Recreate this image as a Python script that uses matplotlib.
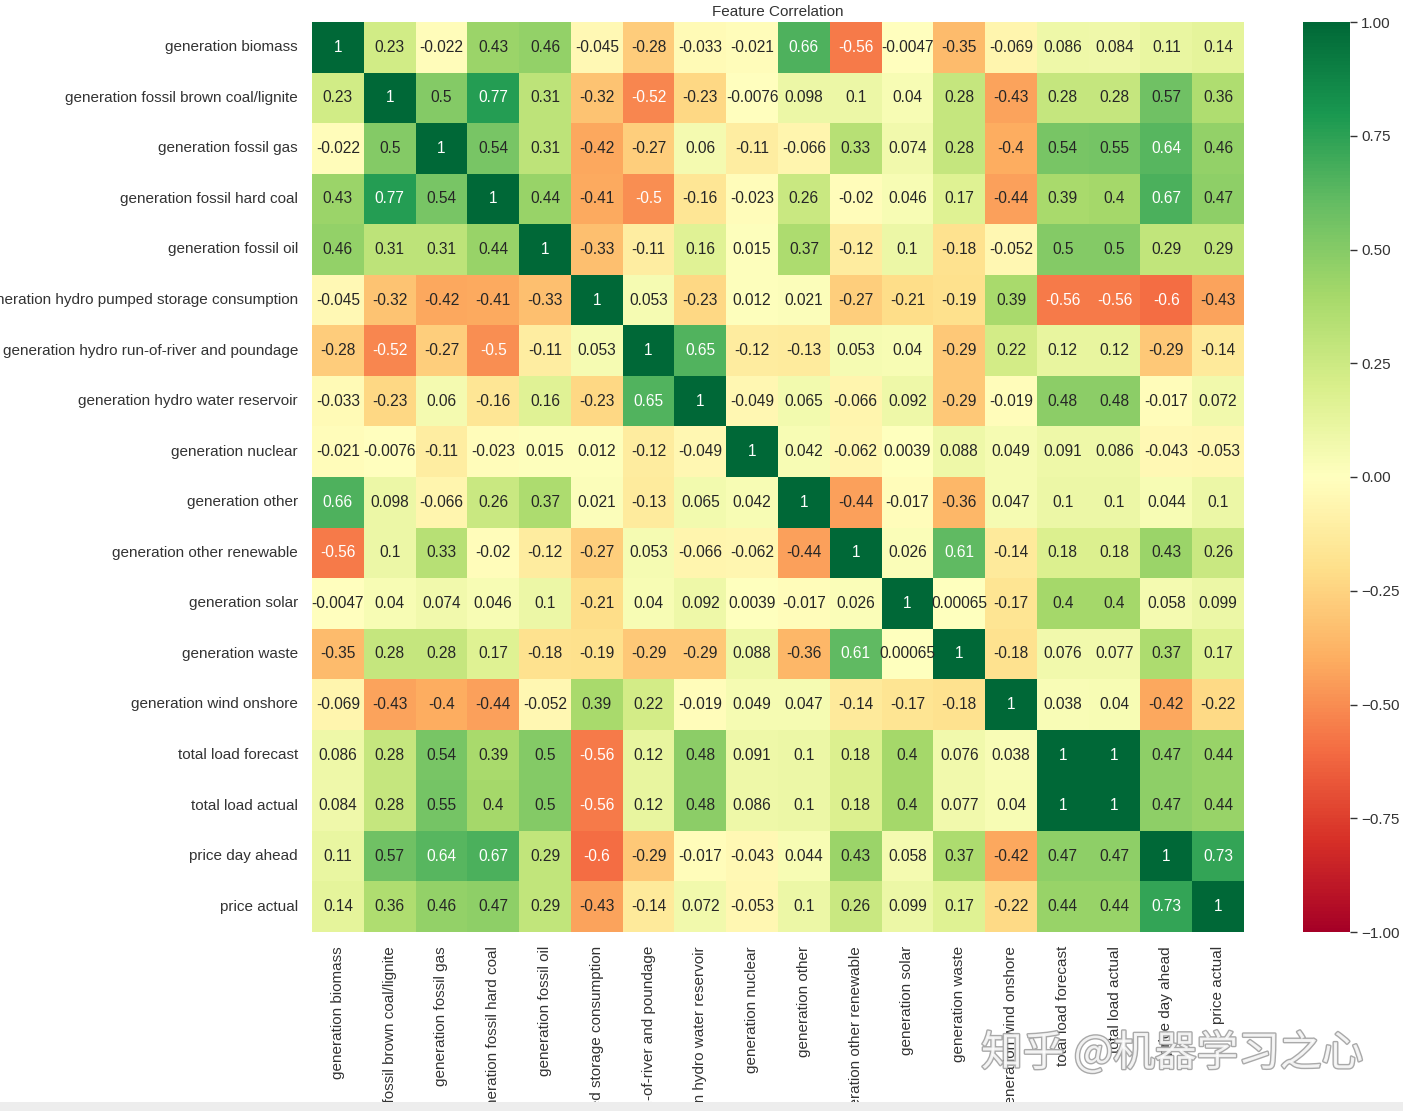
import numpy as np
import matplotlib
matplotlib.use("Agg")
import matplotlib.pyplot as plt
import matplotlib.patheffects as pe
import seaborn as sns

features = [
    "generation biomass",
    "generation fossil brown coal/lignite",
    "generation fossil gas",
    "generation fossil hard coal",
    "generation fossil oil",
    "generation hydro pumped storage consumption",
    "generation hydro run-of-river and poundage",
    "generation hydro water reservoir",
    "generation nuclear",
    "generation other",
    "generation other renewable",
    "generation solar",
    "generation waste",
    "generation wind onshore",
    "total load forecast",
    "total load actual",
    "price day ahead",
    "price actual",
]

corr_rows = [
    [1, 0.23, -0.022, 0.43, 0.46, -0.045, -0.28, -0.033, -0.021, 0.66, -0.56, -0.0047, -0.35, -0.069, 0.086, 0.084, 0.11, 0.14],
    [0.23, 1, 0.5, 0.77, 0.31, -0.32, -0.52, -0.23, -0.0076, 0.098, 0.1, 0.04, 0.28, -0.43, 0.28, 0.28, 0.57, 0.36],
    [-0.022, 0.5, 1, 0.54, 0.31, -0.42, -0.27, 0.06, -0.11, -0.066, 0.33, 0.074, 0.28, -0.4, 0.54, 0.55, 0.64, 0.46],
    [0.43, 0.77, 0.54, 1, 0.44, -0.41, -0.5, -0.16, -0.023, 0.26, -0.02, 0.046, 0.17, -0.44, 0.39, 0.4, 0.67, 0.47],
    [0.46, 0.31, 0.31, 0.44, 1, -0.33, -0.11, 0.16, 0.015, 0.37, -0.12, 0.1, -0.18, -0.052, 0.5, 0.5, 0.29, 0.29],
    [-0.045, -0.32, -0.42, -0.41, -0.33, 1, 0.053, -0.23, 0.012, 0.021, -0.27, -0.21, -0.19, 0.39, -0.56, -0.56, -0.6, -0.43],
    [-0.28, -0.52, -0.27, -0.5, -0.11, 0.053, 1, 0.65, -0.12, -0.13, 0.053, 0.04, -0.29, 0.22, 0.12, 0.12, -0.29, -0.14],
    [-0.033, -0.23, 0.06, -0.16, 0.16, -0.23, 0.65, 1, -0.049, 0.065, -0.066, 0.092, -0.29, -0.019, 0.48, 0.48, -0.017, 0.072],
    [-0.021, -0.0076, -0.11, -0.023, 0.015, 0.012, -0.12, -0.049, 1, 0.042, -0.062, 0.0039, 0.088, 0.049, 0.091, 0.086, -0.043, -0.053],
    [0.66, 0.098, -0.066, 0.26, 0.37, 0.021, -0.13, 0.065, 0.042, 1, -0.44, -0.017, -0.36, 0.047, 0.1, 0.1, 0.044, 0.1],
    [-0.56, 0.1, 0.33, -0.02, -0.12, -0.27, 0.053, -0.066, -0.062, -0.44, 1, 0.026, 0.61, -0.14, 0.18, 0.18, 0.43, 0.26],
    [-0.0047, 0.04, 0.074, 0.046, 0.1, -0.21, 0.04, 0.092, 0.0039, -0.017, 0.026, 1, 0.00065, -0.17, 0.4, 0.4, 0.058, 0.099],
    [-0.35, 0.28, 0.28, 0.17, -0.18, -0.19, -0.29, -0.29, 0.088, -0.36, 0.61, 0.00065, 1, -0.18, 0.076, 0.077, 0.37, 0.17],
    [-0.069, -0.43, -0.4, -0.44, -0.052, 0.39, 0.22, -0.019, 0.049, 0.047, -0.14, -0.17, -0.18, 1, 0.038, 0.04, -0.42, -0.22],
    [0.086, 0.28, 0.54, 0.39, 0.5, -0.56, 0.12, 0.48, 0.091, 0.1, 0.18, 0.4, 0.076, 0.038, 1, 1, 0.47, 0.44],
    [0.084, 0.28, 0.55, 0.4, 0.5, -0.56, 0.12, 0.48, 0.086, 0.1, 0.18, 0.4, 0.077, 0.04, 1, 1, 0.47, 0.44],
    [0.11, 0.57, 0.64, 0.67, 0.29, -0.6, -0.29, -0.017, -0.043, 0.044, 0.43, 0.058, 0.37, -0.42, 0.47, 0.47, 1, 0.73],
    [0.14, 0.36, 0.46, 0.47, 0.29, -0.43, -0.14, 0.072, -0.053, 0.1, 0.26, 0.099, 0.17, -0.22, 0.44, 0.44, 0.73, 1],
]

cbar_ticks = [-1.0, -0.75, -0.5, -0.25, 0.0, 0.25, 0.5, 0.75, 1.0]

sns.set_style("white")
plt.rcParams['font.family'] = ['Liberation Sans', 'DejaVu Sans']
plt.rcParams['text.color'] = '#333333'
plt.rcParams['xtick.color'] = '#333333'
plt.rcParams['ytick.color'] = '#333333'

W, H = 1403, 1111
fig = plt.figure(figsize=(W / 100, H / 100), dpi=100)

# pixel boxes taken from the reference crop
ax = fig.add_axes([312 / W, (H - 932) / H, (1244 - 312) / W, (932 - 22) / H])
cax = fig.add_axes([1303 / W, (H - 932) / H, (1350 - 1303) / W, (932 - 22) / H])

corr = np.array(corr_rows)
sns.heatmap(corr, ax=ax, cbar_ax=cax, cmap="RdYlGn", vmin=-1, vmax=1,
            annot=True, annot_kws={"fontsize": 11.2},
            xticklabels=features, yticklabels=features)

ax.set_title("Feature Correlation", fontsize=11, pad=4)
ax.tick_params(axis='both', length=0, labelsize=11, pad=10)
plt.setp(ax.get_xticklabels(), rotation=90)
plt.setp(ax.get_yticklabels(), rotation=0)

cax.set_yticks(cbar_ticks)
cax.tick_params(axis='y', right=True, length=5, width=1, labelsize=11,
                color='#333333', pad=3)
cax.yaxis.set_major_formatter(matplotlib.ticker.FuncFormatter(
    lambda v, p: f"{v:.2f}".replace("-", "\u2212")))

# light band at the bottom edge of the screenshot
fig.patches.append(plt.Rectangle((0, 0), 1, 9 / H, transform=fig.transFigure,
                                 facecolor='#ededed', edgecolor='none', zorder=5))

# watermark
wm = fig.text(1172 / W, (H - 1053) / H, "知乎 @机器学习之心", fontsize=30,
              family=['Noto Sans CJK SC', 'DejaVu Sans'], color='white',
              alpha=0.85, ha='center', va='center', zorder=10)
wm.set_path_effects([pe.withStroke(linewidth=2, foreground='#9a9a9a')])

fig.savefig("out.png", dpi=100)
